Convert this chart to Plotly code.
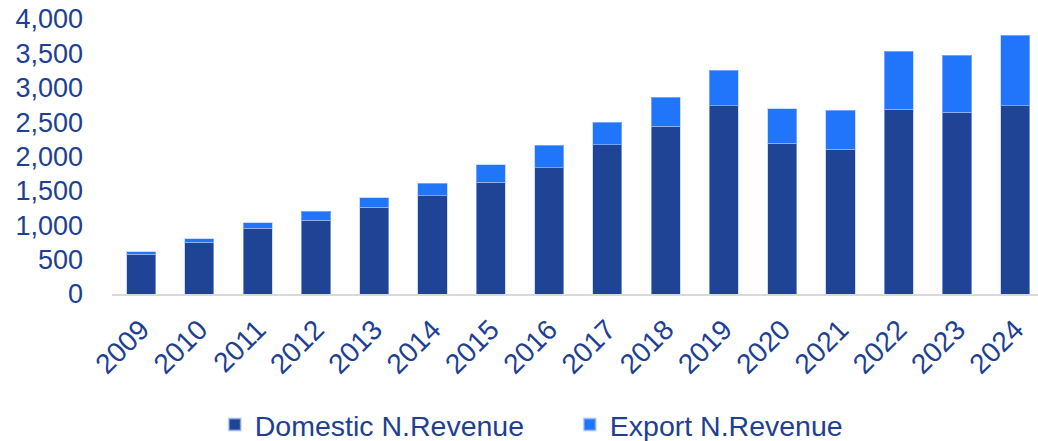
import plotly.graph_objects as go

years = [str(y) for y in range(2009, 2025)]
domestic = [577, 752, 955, 1072, 1261, 1430, 1625, 1833, 2172, 2439, 2739, 2192, 2104, 2686, 2647, 2739]
export = [34, 53, 82, 135, 140, 180, 256, 329, 325, 422, 519, 499, 572, 844, 825, 1028]

TEXT = "#203F93"
FONT = "Liberation Sans, Arial, sans-serif"

fig = go.Figure()

fig.add_trace(go.Bar(
    x=years,
    y=domestic,
    name="Domestic N.Revenue",
    marker=dict(color="#1F4496", line=dict(color="rgba(170,195,255,0.6)", width=1)),
    width=0.5,
))
fig.add_trace(go.Bar(
    x=years,
    y=export,
    name="Export N.Revenue",
    marker=dict(color="#2175FA", line=dict(color="rgba(170,195,255,0.6)", width=1)),
    width=0.5,
))

fig.update_layout(
    barmode="stack",
    width=1038,
    height=441,
    margin=dict(l=112, r=0, t=19, b=147, autoexpand=False),
    paper_bgcolor="white",
    plot_bgcolor="white",
    font=dict(family=FONT, color=TEXT),
    xaxis=dict(
        type="category",
        range=[-0.5, 15.39],
        automargin=False,
        showgrid=False,
        showline=True,
        linecolor="#D9D9D9",
        linewidth=2,
        tickangle=-45,
        tickfont=dict(size=28, color=TEXT),
        ticks="",
        ticklabelstandoff=6,
    ),
    yaxis=dict(
        range=[0, 4000],
        dtick=500,
        tickformat=",",
        automargin=False,
        showgrid=False,
        zeroline=False,
        tickfont=dict(size=27, color=TEXT),
        ticklabelstandoff=28,
    ),
    legend=dict(
        orientation="h",
        traceorder="normal",
        x=0.111,
        xanchor="left",
        y=-0.476,
        yanchor="middle",
        font=dict(size=28.5, color=TEXT),
        entrywidth=310,
        itemsizing="constant",
    ),
)

fig.write_html(
    "out.html",
    config={"displayModeBar": False},
    post_script="document.body.style.margin='0';",
)
